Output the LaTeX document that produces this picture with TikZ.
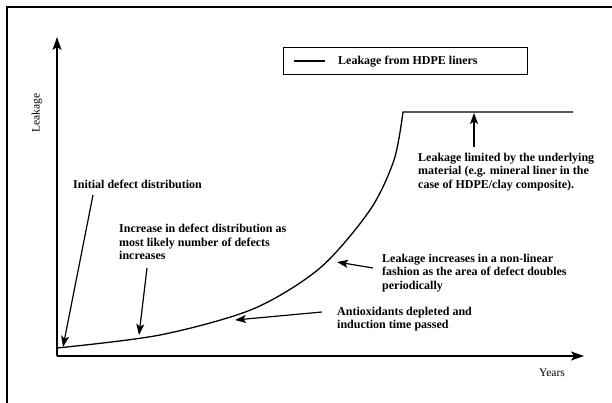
\documentclass[tikz,border=0pt]{standalone}
\usepackage{fontspec}
\setmainfont{Liberation Serif}
\usetikzlibrary{arrows.meta}
\begin{document}
\begin{tikzpicture}[x=1pt,y=-1pt,
  lbl/.style={font=\fontsize{12}{13.4}\selectfont\bfseries, inner sep=0pt, align=left},
  axlbl/.style={font=\fontsize{11.5}{13}\selectfont, inner sep=0pt},
  arr/.style={line width=1.2pt, -{Stealth[length=11pt,width=8pt,inset=2.5pt]}},
  axisarr/.style={line width=1.4pt, -{Stealth[length=13pt,width=9pt,inset=3pt]}},
  curveline/.style={line width=1.3pt}]
\useasboundingbox (0,0) rectangle (612,403);
% frame
\draw[line width=2.6pt] (7,430) -- (7,7) -- (640,7);
% axes
\coordinate (O) at (57,356);
\coordinate (ytip) at (57,37);
\coordinate (xtip) at (584,356);
\draw[axisarr] (O) -- (ytip);
\draw[axisarr] (O) -- (xtip);
\node[axlbl, rotate=90] (ylab) at (37,113) {Leakage};
\node[axlbl, anchor=base] (xlab) at (552,376) {Years};
% legend
\node[draw, line width=1.3pt, minimum width=244pt, minimum height=27pt, anchor=north west, inner sep=0pt] (legend) at (283,47) {};
\draw[curveline] ([xshift=11pt]legend.west) -- ([xshift=42pt]legend.west);
\node[lbl, anchor=west] (legtext) at ([xshift=55pt]legend.west) {Leakage from HDPE liners};
% curve
\coordinate (c0) at (57,348);
\coordinate (ctop) at (403,112);
\coordinate (cend) at (573,112);
\draw[curveline] plot[smooth, tension=0.5] coordinates {(57,348) (160,335) (253,309) (320,268) (370,210) (394,160) (403,112)} -- (cend);
% annotations
\node[lbl, anchor=north west] (tinit) at (73,180) {Initial defect distribution};
\node[lbl, anchor=north west] (tinc) at (119,224) {Increase in defect distribution as\\most likely number of defects\\increases};
\node[lbl, anchor=north west] (tlim) at (418,153) {Leakage limited by the underlying\\material (e.g. mineral liner in the\\case of HDPE/clay composite).};
\node[lbl, anchor=north west] (tnl) at (382,254) {Leakage increases in a non-linear\\fashion as the area of defect doubles\\periodically};
\node[lbl, anchor=north west] (tanti) at (337,307) {Antioxidants depleted and\\induction time passed};
% arrows
\coordinate (ainit0) at (93,195); \coordinate (ainit1) at (63,347);
\coordinate (ainc0) at (147,268); \coordinate (ainc1) at (139,335);
\coordinate (anl0) at (373,268); \coordinate (anl1) at (337,262);
\coordinate (aanti0) at (322,312); \coordinate (aanti1) at (235,320);
\coordinate (alim0) at (474,147); \coordinate (alim1) at (474,113);
\draw[arr] (ainit0) -- (ainit1);
\draw[arr] (ainc0) -- (ainc1);
\draw[arr] (anl0) -- (anl1);
\draw[arr] (aanti0) -- (aanti1);
\draw[arr] (alim0) -- (alim1);
\end{tikzpicture}
\end{document}
